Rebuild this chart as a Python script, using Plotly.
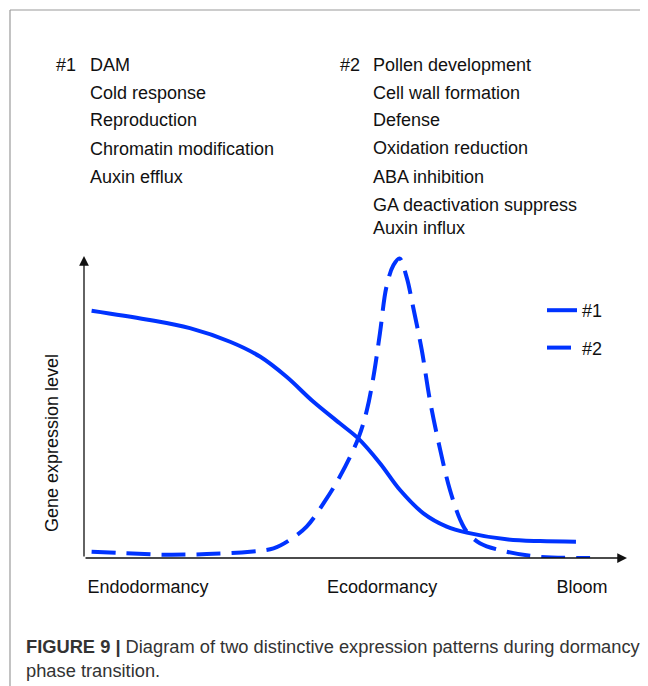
import plotly.graph_objects as go

# ---------------- data ----------------
# x: developmental time (0..10), y: relative gene expression level (0..10)
pattern1_x = [0.14, 1.15, 1.95, 2.69, 3.24, 3.73, 4.22, 4.71, 5.05, 5.45, 5.82, 6.25, 6.68, 7.05, 7.78, 8.40, 9.06]
pattern1_y = [8.19, 7.90, 7.61, 7.16, 6.67, 6.00, 5.18, 4.46, 3.96, 3.14, 2.25, 1.48, 1.04, 0.84, 0.62, 0.56, 0.54]

pattern2_x = [0.14, 0.72, 1.46, 2.26, 3.06, 3.49, 3.79, 4.10, 4.41, 4.71, 5.05, 5.21, 5.33, 5.45, 5.57, 5.70,
              5.81, 5.94, 6.06, 6.22, 6.37, 6.56, 6.74, 6.93, 7.05, 7.29, 7.78, 8.40, 9.32]
pattern2_y = [0.21, 0.16, 0.11, 0.13, 0.21, 0.32, 0.60, 1.04, 1.81, 2.69, 3.96, 4.90, 6.00, 7.44, 8.98, 9.70,
              9.92, 9.31, 8.32, 6.89, 5.23, 3.58, 2.25, 1.26, 0.87, 0.49, 0.21, 0.04, 0.00]

phase_labels = ["Endodormancy", "Ecodormancy", "Bloom"]
phase_positions = [1.18, 5.49, 9.17]

series_names = ["#1", "#2"]
group1_terms = ["DAM", "Cold response", "Reproduction", "Chromatin modification", "Auxin efflux"]
group2_terms = ["Pollen development", "Cell wall formation", "Defense", "Oxidation reduction",
                "ABA inhibition", "GA deactivation suppress", "Auxin influx"]

y_title = "Gene expression level"
caption_bold = "FIGURE 9 |"
caption_text = "Diagram of two distinctive expression patterns during dormancy<br>phase transition."

# ---------------- layout helpers ----------------
W, H = 648, 686
OFF = 8                                  # page body margin compensation
L, R, T, B = 84 - OFF, 627 - OFF, 256 - OFF, 558 - OFF   # plot area in figure pixels
def px(x):  # page pixel x -> paper x
    return (x - OFF - L) / (R - L)
def py(y):  # page pixel y -> paper y
    return (B - (y - OFF)) / (B - T)

FONT = "Liberation Sans, Arial, Helvetica, sans-serif"
BLUE = "#0033ff"
TXT = "#111111"

fig = go.Figure()
fig.add_trace(go.Scatter(
    x=pattern1_x, y=pattern1_y, mode="lines", name=series_names[0], legendgroup="a",
    line=dict(color=BLUE, width=4, shape="spline", smoothing=1.0), cliponaxis=False))
fig.add_trace(go.Scatter(
    x=pattern2_x, y=pattern2_y, mode="lines", name=series_names[1], legendgroup="b",
    line=dict(color=BLUE, width=4, shape="spline", smoothing=1.0, dash="24px,11px"), cliponaxis=False))

annotations = []
# axes arrows
annotations.append(dict(x=0, y=10, xref="x", yref="y", ax=0, ay=0, axref="x", ayref="y",
                        showarrow=True, arrowhead=2, arrowsize=1.5, arrowwidth=1.3, arrowcolor=TXT, text=""))
annotations.append(dict(x=10, y=0, xref="x", yref="y", ax=0, ay=0, axref="x", ayref="y",
                        showarrow=True, arrowhead=2, arrowsize=1.5, arrowwidth=1.3, arrowcolor=TXT, text=""))

# term lists
line_y1 = [65, 93, 120, 149, 177]
line_y2 = [65, 93, 120, 148, 177, 205, 228]
tfont = dict(family=FONT, size=18, color=TXT)
annotations.append(dict(x=px(54), y=py(line_y1[0]), xref="paper", yref="paper", text=series_names[0],
                        showarrow=False, xanchor="left", yanchor="middle", font=tfont))
for t, yy in zip(group1_terms, line_y1):
    annotations.append(dict(x=px(88), y=py(yy), xref="paper", yref="paper", text=t, showarrow=False,
                            xanchor="left", yanchor="middle", font=tfont))
annotations.append(dict(x=px(338), y=py(line_y2[0]), xref="paper", yref="paper", text=series_names[1],
                        showarrow=False, xanchor="left", yanchor="middle", font=tfont))
for t, yy in zip(group2_terms, line_y2):
    annotations.append(dict(x=px(371), y=py(yy), xref="paper", yref="paper", text=t, showarrow=False,
                            xanchor="left", yanchor="middle", font=tfont))

# y axis label
annotations.append(dict(x=px(52), y=py(443), xref="paper", yref="paper", text=y_title, textangle=-90,
                        showarrow=False, xanchor="center", yanchor="middle", font=tfont))

# caption
annotations.append(dict(x=px(24), y=py(634), xref="paper", yref="paper",
                        text="<b>" + caption_bold + "</b> " + caption_text, showarrow=False,
                        xanchor="left", yanchor="top", align="left",
                        font=dict(family=FONT, size=18.3, color="#333333")))

shapes = [
    dict(type="line", xref="paper", yref="paper", x0=px(10), x1=px(W + OFF), y0=py(10), y1=py(10),
         line=dict(color="#9a9a9a", width=1.2)),
    dict(type="line", xref="paper", yref="paper", x0=px(10), x1=px(10), y0=py(10), y1=py(H + OFF),
         line=dict(color="#9a9a9a", width=1.2)),
]

fig.update_layout(
    width=W, height=H,
    margin=dict(l=L, r=W - R, t=T, b=H - B, pad=0),
    paper_bgcolor="white", plot_bgcolor="white",
    font=dict(family=FONT, size=18, color=TXT),
    showlegend=True,
    legend=dict(x=px(542), y=py(292), xanchor="left", yanchor="top", bgcolor="rgba(0,0,0,0)",
                font=dict(family=FONT, size=18, color=TXT), tracegroupgap=11, itemwidth=30),
    annotations=annotations,
    shapes=shapes,
    xaxis=dict(range=[0, 10], showgrid=False, zeroline=False, showline=False, ticks="",
               tickvals=phase_positions, ticktext=phase_labels, ticklabelstandoff=16,
               tickfont=dict(family=FONT, size=18, color=TXT), fixedrange=True),
    yaxis=dict(range=[0, 10], showgrid=False, zeroline=False, showline=False, ticks="",
               showticklabels=False, fixedrange=True),
)

fig.write_html("out.html")
